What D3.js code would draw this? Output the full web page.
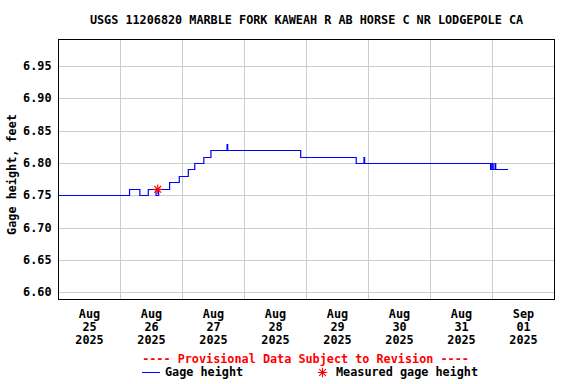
<!DOCTYPE html>
<html>
<head>
<meta charset="utf-8">
<script src="https://cdn.jsdelivr.net/npm/d3@7"></script>
<style>
  body { margin: 0; background: #fff; }
  text { font-family: "DejaVu Sans Mono", monospace; font-weight: bold; font-size: 11.8px; fill: #000; }
</style>
</head>
<body>
<div id="chart"></div>
<script>
// gage height readings (change points of the 15-minute record)
var gageTimes = [
  "2025-08-25 00:00", "2025-08-26 03:30", "2025-08-26 07:30", "2025-08-26 10:45",
  "2025-08-26 13:45", "2025-08-26 14:45", "2025-08-26 19:00", "2025-08-26 22:45",
  "2025-08-27 02:15", "2025-08-27 04:45", "2025-08-27 08:15", "2025-08-27 11:00",
  "2025-08-27 17:15", "2025-08-27 17:30", "2025-08-28 21:45", "2025-08-29 19:15",
  "2025-08-29 22:15", "2025-08-29 22:30", "2025-08-31 23:15", "2025-08-31 23:45",
  "2025-09-01 00:15", "2025-09-01 01:00", "2025-09-01 01:15", "2025-09-01 06:00"
];
var gageValues = [
  6.75, 6.76, 6.75, 6.76,
  6.75, 6.76, 6.77, 6.78,
  6.79, 6.80, 6.81, 6.82,
  6.83, 6.82, 6.81, 6.80,
  6.81, 6.80, 6.79, 6.80,
  6.79, 6.80, 6.79, 6.79
];

// field measurement
var measuredTimes = ["2025-08-26 14:25"];
var measuredValues = [6.76];

var yTicks = [6.60, 6.65, 6.70, 6.75, 6.80, 6.85, 6.90, 6.95];
var dayTicks = ["2025-08-25", "2025-08-26", "2025-08-27", "2025-08-28",
                "2025-08-29", "2025-08-30", "2025-08-31", "2025-09-01"];
var dayLabels = [["Aug","25","2025"], ["Aug","26","2025"], ["Aug","27","2025"], ["Aug","28","2025"],
                 ["Aug","29","2025"], ["Aug","30","2025"], ["Aug","31","2025"], ["Sep","01","2025"]];

var title = "USGS 11206820 MARBLE FORK KAWEAH R AB HORSE C NR LODGEPOLE CA";

var width = 576, height = 384;
var margin = {top: 39, right: 22, bottom: 85, left: 58};

var parseTime = d3.utcParse("%Y-%m-%d %H:%M"),
    parseDay = d3.utcParse("%Y-%m-%d");

var gage = gageTimes.map(function(t, i) { return {t: parseTime(t), v: gageValues[i]}; });
var measured = measuredTimes.map(function(t, i) { return {t: parseTime(t), v: measuredValues[i]}; });

var svg = d3.select("#chart").append("svg")
    .attr("width", width)
    .attr("height", height);

svg.append("rect").attr("width", width).attr("height", height).attr("fill", "#fff");

var x = d3.scaleUtc()
    .domain([parseDay("2025-08-25"), parseDay("2025-09-02")])
    .range([margin.left, width - margin.right]);

var y = d3.scaleLinear()
    .domain([6.5896, 6.9918])
    .range([height - margin.bottom, margin.top]);

var g = svg.append("g").attr("transform", "translate(0.5,0.5)");

// grid
g.selectAll("line.vgrid")
    .data(dayTicks.slice(1).concat(["2025-09-02"]))
  .enter().append("line")
    .attr("class", "vgrid")
    .attr("x1", function(d) { return Math.round(x(parseDay(d))); })
    .attr("x2", function(d) { return Math.round(x(parseDay(d))); })
    .attr("y1", margin.top)
    .attr("y2", height - margin.bottom)
    .attr("stroke", "#cccccc")
    .attr("shape-rendering", "crispEdges");

g.selectAll("line.hgrid")
    .data(yTicks)
  .enter().append("line")
    .attr("class", "hgrid")
    .attr("x1", margin.left)
    .attr("x2", width - margin.right)
    .attr("y1", function(d) { return Math.round(y(d)); })
    .attr("y2", function(d) { return Math.round(y(d)); })
    .attr("stroke", "#cccccc")
    .attr("shape-rendering", "crispEdges");

// gage height line
var line = d3.line()
    .x(function(d) { return x(d.t); })
    .y(function(d) { return Math.round(y(d.v)); })
    .curve(d3.curveStepAfter);

g.append("path")
    .datum(gage)
    .attr("d", line)
    .attr("fill", "none")
    .attr("stroke", "#0000ff")
    .attr("stroke-width", 1.2);

// eight-spoke asterisk like the USGS marker
var spokes = {
  draw: function(ctx, size) {
    var r = Math.sqrt(size) / 2, q = r * Math.SQRT1_2;
    ctx.moveTo(-r, 0); ctx.lineTo(r, 0);
    ctx.moveTo(0, -r); ctx.lineTo(0, r);
    ctx.moveTo(-q, -q); ctx.lineTo(q, q);
    ctx.moveTo(-q, q); ctx.lineTo(q, -q);
  }
};
var star = d3.symbol().type(spokes).size(90);

g.selectAll("path.meas")
    .data(measured)
  .enter().append("path")
    .attr("class", "meas")
    .attr("d", star)
    .attr("transform", function(d) { return "translate(" + x(d.t) + "," + y(d.v) + ")"; })
    .attr("fill", "none")
    .attr("stroke", "#ff0000")
    .attr("stroke-width", 1.1);

// frame
g.append("rect")
    .attr("x", margin.left)
    .attr("y", margin.top)
    .attr("width", width - margin.left - margin.right)
    .attr("height", height - margin.top - margin.bottom)
    .attr("fill", "none")
    .attr("stroke", "#000")
    .attr("shape-rendering", "crispEdges");

// y tick labels
svg.selectAll("text.ytick")
    .data(yTicks)
  .enter().append("text")
    .attr("class", "ytick")
    .attr("x", 51.5)
    .attr("y", function(d) { return y(d) + 4; })
    .attr("text-anchor", "end")
    .text(function(d) { return d3.format(".2f")(d); });

// x tick labels, centred on noon of each day
var xl = svg.selectAll("text.xtick")
    .data(dayTicks)
  .enter().append("text")
    .attr("class", "xtick")
    .attr("text-anchor", "middle")
    .attr("transform", function(d) { return "translate(" + (x(d3.utcHour.offset(parseDay(d), 12)) + 0.5) + ",318)"; });

xl.selectAll("tspan")
    .data(function(d, i) { return dayLabels[i]; })
  .enter().append("tspan")
    .attr("x", 0)
    .attr("y", function(d, i) { return i * 13; })
    .text(function(d) { return d; });

// title and axis label
svg.append("text")
    .attr("x", (margin.left + width - margin.right) / 2 + 0.5)
    .attr("y", 24)
    .attr("text-anchor", "middle")
    .text(title);

svg.append("text")
    .attr("transform", "translate(15.5,174.5) rotate(-90)")
    .attr("text-anchor", "middle")
    .text("Gage height, feet");

// legend
svg.append("text")
    .attr("x", 305.5)
    .attr("y", 362.5)
    .attr("text-anchor", "middle")
    .style("fill", "#ff0000")
    .text("---- Provisional Data Subject to Revision ----");

svg.append("line")
    .attr("x1", 142).attr("x2", 160)
    .attr("y1", 372.5).attr("y2", 372.5)
    .attr("stroke", "#0000ff");

svg.append("text")
    .attr("x", 165)
    .attr("y", 376)
    .text("Gage height");

svg.append("path")
    .attr("d", star)
    .attr("transform", "translate(322.5,372.5)")
    .attr("fill", "none")
    .attr("stroke", "#ff0000")
    .attr("stroke-width", 1.1);

svg.append("text")
    .attr("x", 336)
    .attr("y", 376)
    .text("Measured gage height");
</script>
</body>
</html>
